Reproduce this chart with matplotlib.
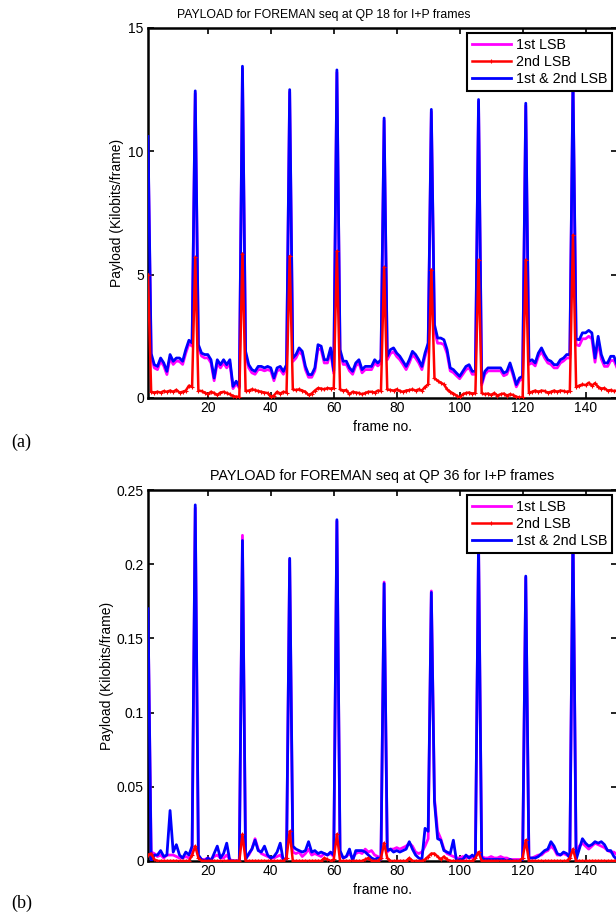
import numpy as np
import matplotlib
matplotlib.use("Agg")
import matplotlib.pyplot as plt

plt.rcParams["font.family"] = ["Liberation Sans", "DejaVu Sans"]

frames = np.arange(1, 151)

# QP 18: payload in kilobits per frame
qp18_lsb1 = [
    10.4, 1.65, 1.22, 1.15, 1.50, 1.30, 0.95, 1.62, 1.36, 1.50, 1.48, 1.36, 1.82, 2.20, 2.10,
    12.35, 2.02, 1.70, 1.62, 1.63, 1.42, 0.70, 1.42, 1.22, 1.42, 1.22, 1.42, 0.38, 0.58, 0.40,
    13.35, 1.75, 1.22, 1.02, 0.96, 1.15, 1.15, 1.10, 1.15, 1.10, 0.70, 1.10, 1.15, 0.96, 1.22,
    12.4, 1.48, 1.62, 1.88, 1.75, 1.15, 0.84, 0.84, 1.10, 2.00, 1.95, 1.42, 1.42, 1.88, 1.00,
    13.2, 1.82, 1.36, 1.36, 1.10, 0.96, 1.30, 1.42, 1.02, 1.15, 1.15, 1.15, 1.42, 1.30, 1.42,
    11.25, 1.55, 1.80, 1.88, 1.68, 1.55, 1.36, 1.15, 1.42, 1.75, 1.62, 1.42, 1.15, 1.68, 2.08,
    11.6, 2.75, 2.22, 2.22, 2.16, 1.80, 1.10, 1.03, 0.90, 0.78, 0.96, 1.15, 1.22, 0.96, 0.96,
    12.0, 0.52, 0.96, 1.10, 1.10, 1.10, 1.10, 1.10, 0.90, 0.96, 1.30, 0.90, 0.45, 0.70, 0.78,
    11.85, 1.36, 1.42, 1.30, 1.68, 1.88, 1.62, 1.42, 1.36, 1.22, 1.22, 1.42, 1.50, 1.62, 1.62,
    12.9, 2.16, 2.12, 2.40, 2.40, 2.50, 2.40, 1.45, 2.28, 1.58, 1.28, 1.28, 1.52, 1.52, 1.22,
]
qp18_lsb2 = [
    5.0, 0.25, 0.22, 0.25, 0.22, 0.28, 0.25, 0.30, 0.25, 0.33, 0.22, 0.25, 0.30, 0.50, 0.45,
    5.7, 0.30, 0.28, 0.22, 0.15, 0.25, 0.20, 0.12, 0.22, 0.25, 0.20, 0.15, 0.08, 0.05, 0.05,
    5.85, 0.28, 0.30, 0.35, 0.32, 0.28, 0.25, 0.22, 0.20, 0.05, 0.10, 0.25, 0.18, 0.25, 0.22,
    5.75, 0.35, 0.32, 0.35, 0.30, 0.25, 0.12, 0.18, 0.30, 0.40, 0.38, 0.35, 0.40, 0.38, 0.40,
    5.95, 0.35, 0.30, 0.32, 0.15, 0.25, 0.22, 0.20, 0.15, 0.20, 0.25, 0.25, 0.22, 0.30, 0.28,
    5.3, 0.35, 0.32, 0.30, 0.35, 0.28, 0.25, 0.30, 0.32, 0.35, 0.30, 0.35, 0.30, 0.45, 0.55,
    5.2, 0.80, 0.70, 0.62, 0.55, 0.35, 0.25, 0.18, 0.10, 0.02, 0.15, 0.20, 0.22, 0.18, 0.20,
    5.6, 0.20, 0.15, 0.18, 0.12, 0.20, 0.10, 0.15, 0.18, 0.10, 0.15, 0.12, 0.05, 0.02, 0.02,
    5.6, 0.22, 0.25, 0.30, 0.25, 0.30, 0.28, 0.22, 0.25, 0.30, 0.25, 0.30, 0.28, 0.25, 0.28,
    6.6, 0.45, 0.50, 0.55, 0.52, 0.62, 0.50, 0.60, 0.45, 0.38, 0.40, 0.30, 0.32, 0.28, 0.30,
]
qp18_both = [
    10.6, 1.80, 1.35, 1.28, 1.62, 1.42, 1.08, 1.76, 1.49, 1.62, 1.62, 1.49, 1.96, 2.34, 2.23,
    12.45, 2.16, 1.82, 1.76, 1.76, 1.55, 0.81, 1.55, 1.35, 1.55, 1.35, 1.55, 0.47, 0.68, 0.47,
    13.45, 1.89, 1.35, 1.15, 1.08, 1.28, 1.28, 1.22, 1.28, 1.22, 0.81, 1.22, 1.28, 1.08, 1.35,
    12.5, 1.62, 1.76, 2.03, 1.89, 1.28, 0.95, 0.95, 1.22, 2.16, 2.10, 1.55, 1.55, 2.03, 1.10,
    13.3, 1.96, 1.49, 1.49, 1.22, 1.08, 1.42, 1.55, 1.15, 1.28, 1.28, 1.28, 1.55, 1.42, 1.55,
    11.35, 1.69, 1.96, 2.03, 1.82, 1.69, 1.49, 1.28, 1.55, 1.89, 1.76, 1.55, 1.28, 1.82, 2.23,
    11.7, 2.97, 2.43, 2.43, 2.36, 1.96, 1.22, 1.15, 1.01, 0.88, 1.08, 1.28, 1.35, 1.08, 1.08,
    12.1, 0.61, 1.08, 1.22, 1.22, 1.22, 1.22, 1.22, 1.01, 1.08, 1.42, 1.01, 0.54, 0.81, 0.88,
    11.95, 1.49, 1.55, 1.42, 1.82, 2.03, 1.76, 1.55, 1.49, 1.35, 1.35, 1.55, 1.62, 1.76, 1.76,
    13.0, 2.39, 2.36, 2.64, 2.64, 2.74, 2.64, 1.62, 2.50, 1.76, 1.42, 1.42, 1.69, 1.69, 1.35,
]

# QP 36
qp36_lsb1 = [
    0.168, 0.006, 0.005, 0.003, 0.004, 0.002, 0.004, 0.004, 0.004, 0.003, 0.002, 0.002, 0.003, 0.002, 0.004,
    0.238, 0.003, 0.001, 0.001, 0.002, 0.001, 0.003, 0.004, 0.002, 0.002, 0.004, 0.001, 0.000, 0.000, 0.000,
    0.2195, 0.002, 0.004, 0.008, 0.015, 0.008, 0.005, 0.004, 0.003, 0.002, 0.002, 0.003, 0.004, 0.001, 0.002,
    0.203, 0.006, 0.005, 0.006, 0.003, 0.005, 0.008, 0.004, 0.005, 0.004, 0.003, 0.005, 0.004, 0.005, 0.003,
    0.229, 0.005, 0.002, 0.003, 0.005, 0.002, 0.005, 0.006, 0.005, 0.008, 0.006, 0.007, 0.004, 0.003, 0.002,
    0.188, 0.006, 0.008, 0.008, 0.009, 0.008, 0.009, 0.010, 0.012, 0.010, 0.006, 0.005, 0.006, 0.010, 0.015,
    0.182, 0.042, 0.020, 0.015, 0.008, 0.005, 0.004, 0.003, 0.002, 0.002, 0.003, 0.002, 0.003, 0.002, 0.002,
    0.214, 0.003, 0.002, 0.002, 0.003, 0.002, 0.002, 0.003, 0.002, 0.002, 0.001, 0.001, 0.001, 0.001, 0.001,
    0.191, 0.002, 0.002, 0.003, 0.004, 0.004, 0.006, 0.007, 0.010, 0.008, 0.004, 0.004, 0.005, 0.004, 0.003,
    0.224, 0.003, 0.010, 0.012, 0.010, 0.008, 0.010, 0.012, 0.011, 0.010, 0.009, 0.007, 0.006, 0.006, 0.004,
]
qp36_lsb2 = [
    0.004, 0.005, 0.001, 0, 0, 0, 0, 0, 0, 0, 0, 0, 0, 0, 0.004,
    0.010, 0.002, 0, 0, 0, 0, 0, 0, 0, 0, 0, 0, 0, 0, 0,
    0.018, 0, 0, 0, 0, 0, 0, 0, 0, 0, 0, 0, 0, 0, 0.002,
    0.020, 0, 0, 0, 0, 0, 0, 0, 0, 0, 0, 0.002, 0.001, 0, 0.001,
    0.018, 0, 0, 0, 0, 0, 0, 0, 0, 0.001, 0.002, 0, 0, 0, 0.002,
    0.012, 0.002, 0, 0, 0, 0, 0, 0, 0.002, 0, 0, 0, 0, 0.001, 0.003,
    0.005, 0.005, 0.003, 0.001, 0.003, 0.001, 0, 0, 0, 0, 0, 0, 0, 0, 0.002,
    0.006, 0, 0, 0, 0, 0, 0, 0, 0, 0, 0, 0, 0, 0, 0.002,
    0.014, 0, 0, 0, 0, 0, 0, 0, 0, 0, 0, 0, 0, 0, 0.002,
    0.008, 0, 0, 0, 0, 0, 0, 0, 0, 0, 0, 0, 0, 0, 0,
]
qp36_both = [
    0.170, 0.000, 0.004, 0.004, 0.007, 0.003, 0.004, 0.034, 0.006, 0.011, 0.004, 0.002, 0.006, 0.004, 0.010,
    0.240, 0.004, 0.001, 0.000, 0.002, 0.000, 0.005, 0.010, 0.002, 0.005, 0.012, 0.000, 0.000, 0.000, 0.000,
    0.216, 0.001, 0.005, 0.008, 0.014, 0.007, 0.006, 0.010, 0.004, 0.002, 0.003, 0.006, 0.012, 0.000, 0.002,
    0.204, 0.010, 0.008, 0.007, 0.006, 0.007, 0.013, 0.006, 0.007, 0.005, 0.006, 0.005, 0.004, 0.006, 0.004,
    0.230, 0.007, 0.002, 0.003, 0.008, 0.000, 0.007, 0.007, 0.007, 0.006, 0.004, 0.002, 0.001, 0.002, 0.001,
    0.187, 0.007, 0.008, 0.006, 0.007, 0.006, 0.007, 0.008, 0.013, 0.008, 0.004, 0.002, 0.001, 0.022, 0.020,
    0.181, 0.040, 0.015, 0.014, 0.007, 0.006, 0.005, 0.014, 0.000, 0.001, 0.001, 0.004, 0.002, 0.004, 0.002,
    0.215, 0.002, 0.001, 0.001, 0.001, 0.001, 0.001, 0.001, 0.001, 0.000, 0.001, 0.000, 0.000, 0.000, 0.000,
    0.192, 0.002, 0.002, 0.002, 0.003, 0.005, 0.007, 0.008, 0.013, 0.010, 0.005, 0.004, 0.006, 0.005, 0.002,
    0.225, 0.001, 0.008, 0.015, 0.012, 0.010, 0.011, 0.013, 0.012, 0.013, 0.011, 0.007, 0.007, 0.003, 0.001,
]

qp18_yticks = [0, 5, 10, 15]
qp36_yticks = [0, 0.05, 0.1, 0.15, 0.2, 0.25]
xticks = [20, 40, 60, 80, 100, 120, 140]
labels = ["1st LSB", "2nd LSB", "1st & 2nd LSB"]


def payload_plot(ax, lsb1, lsb2, both, qp, yticks, ylabel_x, title_x, title_size):
    ax.plot(frames, lsb1, color="#ff00ff", lw=2.0, zorder=2, label=labels[0])
    ax.plot(frames, lsb2, color="#ff0000", lw=1.8, marker="+", ms=3, mew=0.8,
            zorder=4, label=labels[1])
    ax.plot(frames, both, color="#0000ff", lw=2.0, zorder=3, label=labels[2])
    ax.set_xlim(1, 150)
    ax.set_ylim(yticks[0], yticks[-1])
    ax.set_xticks(xticks)
    ax.set_yticks(yticks)
    ax.set_yticklabels([("%g" % t) for t in yticks])
    ax.tick_params(direction="in", top=True, right=True, length=4, width=1.2,
                   labelsize=10, pad=3)
    ax.tick_params(axis="x", pad=2)
    for s in ax.spines.values():
        s.set_linewidth(1.8)
    ax.set_title("PAYLOAD for FOREMAN seq at QP %d for I+P frames" % qp,
                 fontsize=title_size, pad=7, x=title_x)
    ax.set_xlabel("frame no.", fontsize=10, labelpad=4)
    ax.set_ylabel("Payload (Kilobits/frame)", fontsize=10)
    ax.yaxis.set_label_coords(ylabel_x, 0.5)
    leg = ax.legend(loc="upper right", fontsize=10.3, handlelength=2.7,
                    labelspacing=0.2, borderpad=0.35, handletextpad=0.35,
                    borderaxespad=0.35, fancybox=False, framealpha=1)
    leg.get_frame().set_edgecolor("black")
    leg.get_frame().set_linewidth(1.5)


fig = plt.figure(figsize=(6.16, 9.17), dpi=100)
ax1 = fig.add_axes([0.2403, 0.5660, 0.7614, 0.4035])
ax2 = fig.add_axes([0.2403, 0.0611, 0.7614, 0.4045])

payload_plot(ax1, qp18_lsb1, qp18_lsb2, qp18_both, 18, qp18_yticks, -0.052, 0.375, 8.8)
payload_plot(ax2, qp36_lsb1, qp36_lsb2, qp36_both, 36, qp36_yticks, -0.073, 0.5, 10.4)

fig.text(0.035, 1 - 442 / 917, "(a)", family=["Liberation Serif", "DejaVu Serif"],
         fontsize=13, ha="center", va="center")
fig.text(0.035, 1 - 903 / 917, "(b)", family=["Liberation Serif", "DejaVu Serif"],
         fontsize=13, ha="center", va="center")

fig.savefig("out.png", dpi=100)
